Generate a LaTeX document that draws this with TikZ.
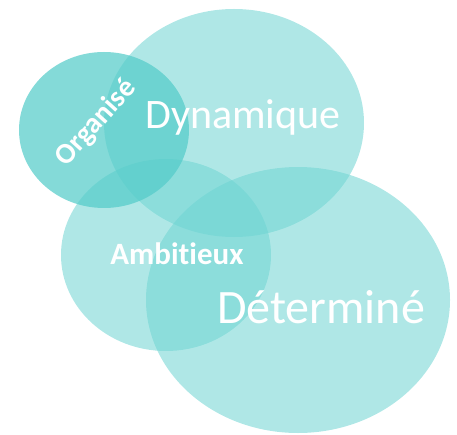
\documentclass[tikz,border=0pt]{standalone}
\usepackage{fontspec}
\setmainfont[Ligatures=NoCommon]{Carlito}
\definecolor{tealc}{RGB}{110,212,210}
\definecolor{orgc}{RGB}{84,204,201}
\begin{document}
\begin{tikzpicture}[x=1pt,y=1pt,
  bubble/.style={fill=tealc,fill opacity=0.55,draw=none},
  orgbubble/.style={fill=orgc,fill opacity=0.72,draw=none},
  lbl/.style={text=white,inner sep=0pt,anchor=base}]
\useasboundingbox (0,0) rectangle (457,434);
\path[bubble] (234,311) ellipse [x radius=130,y radius=114];
\path[bubble] (166,179) ellipse [x radius=105,y radius=96];
\path[bubble] (298,134) ellipse [x radius=152,y radius=133];
\path[orgbubble] (104,304) ellipse [x radius=85,y radius=78];
\node[lbl,font=\fontsize{42}{42}\selectfont] (dyn) at (243,305) {Dynamique};
\node[lbl,font=\fontsize{48}{48}\selectfont] (det) at (321,111) {Déterminé};
\node[lbl,font=\bfseries\fontsize{31}{31}\selectfont] (amb) at (177,170) {Ambitieux};
\node[text=white,inner sep=0pt,rotate=48,font=\bfseries\fontsize{29}{29}\selectfont] (org) at (96,311) {Organisé};
\end{tikzpicture}
\end{document}
